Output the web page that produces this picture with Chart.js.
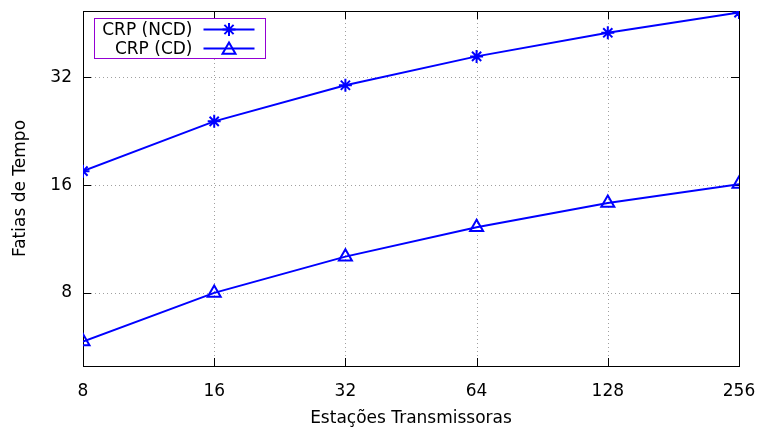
<!DOCTYPE html>
<html>
<head>
<meta charset="utf-8">
<script src="https://cdn.jsdelivr.net/npm/chart.js@4/dist/chart.umd.min.js"></script>
<style>
  html, body { margin: 0; padding: 0; background: #fff; }
  #wrap { width: 758px; height: 430px; }
</style>
</head>
<body>
<div id="wrap"><canvas id="c" width="758" height="430"></canvas></div>
<script>
// Number of transmitting stations (x) and time slots (y)
const stations = [8, 16, 32, 64, 128, 256];
const slotsNCD = [17.5, 24.1, 30.4, 36.6, 42.6, 48.5];
const slotsCD = [5.85, 8.0, 10.1, 12.2, 14.25, 16.1];
const xTicks = [8, 16, 32, 64, 128, 256];
const yTicks = [8, 16, 32];

const FONT = 'DejaVu Sans';
const FSIZE = 17;
const BLUE = '#0000ff';

const toPoints = (ys) => stations.map((x, i) => ({ x: x, y: ys[i] }));

// Frame, dotted grid, inward ticks on all four sides and the boxed key
const framePlugin = {
  id: 'frame',
  beforeDatasetsDraw(chart) {
    const { ctx, chartArea: a, scales: { x, y } } = chart;
    ctx.save();
    ctx.strokeStyle = '#a0a0a0';
    ctx.lineWidth = 1;
    ctx.setLineDash([1, 3]);
    x.ticks.forEach(t => {
      const px = Math.round(x.getPixelForValue(t.value)) + 0.5;
      if (px <= a.left + 1 || px >= a.right - 1) return;
      ctx.beginPath(); ctx.moveTo(px, a.top); ctx.lineTo(px, a.bottom); ctx.stroke();
    });
    y.ticks.forEach(t => {
      const py = Math.round(y.getPixelForValue(t.value)) + 0.5;
      ctx.beginPath(); ctx.moveTo(a.left, py); ctx.lineTo(a.right, py); ctx.stroke();
    });
    ctx.setLineDash([]);
    ctx.strokeStyle = '#000';
    const tl = 8;
    x.ticks.forEach(t => {
      const px = Math.round(x.getPixelForValue(t.value)) + 0.5;
      ctx.beginPath();
      ctx.moveTo(px, a.bottom); ctx.lineTo(px, a.bottom - tl);
      ctx.moveTo(px, a.top); ctx.lineTo(px, a.top + tl);
      ctx.stroke();
    });
    y.ticks.forEach(t => {
      const py = Math.round(y.getPixelForValue(t.value)) + 0.5;
      ctx.beginPath();
      ctx.moveTo(a.left, py); ctx.lineTo(a.left + tl, py);
      ctx.moveTo(a.right, py); ctx.lineTo(a.right - tl, py);
      ctx.stroke();
    });
    ctx.strokeRect(Math.round(a.left) + 0.5, Math.round(a.top) + 0.5,
                   Math.round(a.right - a.left), Math.round(a.bottom - a.top));
    ctx.restore();
  },
  afterDatasetsDraw(chart) {
    const { ctx, chartArea: a } = chart;
    const box = { x: Math.round(a.left) + 11.5, y: Math.round(a.top) + 7.5, w: 171, h: 40 };
    ctx.save();
    ctx.fillStyle = '#fff';
    ctx.fillRect(box.x, box.y, box.w, box.h);
    ctx.strokeStyle = '#9400d3';
    ctx.lineWidth = 1;
    ctx.strokeRect(box.x, box.y, box.w, box.h);
    ctx.font = FSIZE + 'px "' + FONT + '"';
    ctx.textAlign = 'right';
    ctx.textBaseline = 'middle';
    chart.data.datasets.forEach((ds, i) => {
      const cy = box.y + 11 + i * 19;
      ctx.fillStyle = '#000';
      ctx.fillText(ds.label, box.x + 98, cy + 1);
      const x0 = box.x + 109, x1 = box.x + 160;
      ctx.strokeStyle = ds.borderColor;
      ctx.lineWidth = ds.borderWidth;
      ctx.beginPath(); ctx.moveTo(x0, cy); ctx.lineTo(x1, cy); ctx.stroke();
      ctx.fillStyle = 'rgba(0,0,0,0)';
      Chart.helpers.drawPoint(ctx, {
        pointStyle: ds.pointStyle, radius: ds.pointRadius, borderWidth: ds.pointBorderWidth
      }, (x0 + x1) / 2, cy + (ds.pointStyle === 'triangle' ? 1.5 : 0));
    });
    ctx.restore();
  }
};

new Chart(document.getElementById('c'), {
  type: 'line',
  data: {
    datasets: [
      {
        label: 'CRP (NCD)',
        data: toPoints(slotsNCD),
        borderColor: BLUE, backgroundColor: 'rgba(0,0,0,0)',
        borderWidth: 2, pointStyle: 'star', pointRadius: 6.5,
        pointBorderWidth: 2, pointBorderColor: BLUE, pointBackgroundColor: 'rgba(0,0,0,0)'
      },
      {
        label: 'CRP (CD)',
        data: toPoints(slotsCD),
        borderColor: BLUE, backgroundColor: 'rgba(0,0,0,0)',
        borderWidth: 2, pointStyle: 'triangle', pointRadius: 7.5,
        pointBorderWidth: 2, pointBorderColor: BLUE, pointBackgroundColor: 'rgba(0,0,0,0)'
      }
    ]
  },
  options: {
    responsive: false,
    animation: false,
    devicePixelRatio: 1,
    layout: { padding: { left: 0, right: 19, top: 11, bottom: 0 } },
    plugins: { legend: { display: false }, tooltip: { enabled: false } },
    elements: { line: { tension: 0 } },
    scales: {
      x: {
        type: 'logarithmic',
        min: 8, max: 256,
        afterBuildTicks: s => { s.ticks = xTicks.map(v => ({ value: v })); },
        afterFit: s => {
          s.height = 64;
          s.paddingLeft = 0; s.paddingRight = 0; s.paddingTop = 0; s.paddingBottom = 0;
        },
        grid: { display: false, drawTicks: false },
        border: { display: false },
        ticks: {
          autoSkip: false, maxRotation: 0, padding: 15,
          color: '#000', font: { family: FONT, size: FSIZE },
          callback: v => String(v)
        },
        title: {
          display: true, text: 'Estações Transmissoras', color: '#000',
          font: { family: FONT, size: FSIZE }, padding: { top: 0, bottom: 1 }
        }
      },
      y: {
        type: 'logarithmic',
        min: 5, max: 49,
        afterBuildTicks: s => { s.ticks = yTicks.map(v => ({ value: v })); },
        afterFit: s => {
          s.width = 83;
          s.paddingLeft = 0; s.paddingRight = 0; s.paddingTop = 0; s.paddingBottom = 0;
        },
        grid: { display: false, drawTicks: false },
        border: { display: false },
        ticks: {
          autoSkip: false, padding: 11,
          color: '#000', font: { family: FONT, size: FSIZE },
          callback: v => String(v)
        },
        title: {
          display: true, text: 'Fatias de Tempo', color: '#000',
          font: { family: FONT, size: FSIZE }, padding: { top: 10, bottom: 0 }
        }
      }
    }
  },
  plugins: [framePlugin]
});
</script>
</body>
</html>
